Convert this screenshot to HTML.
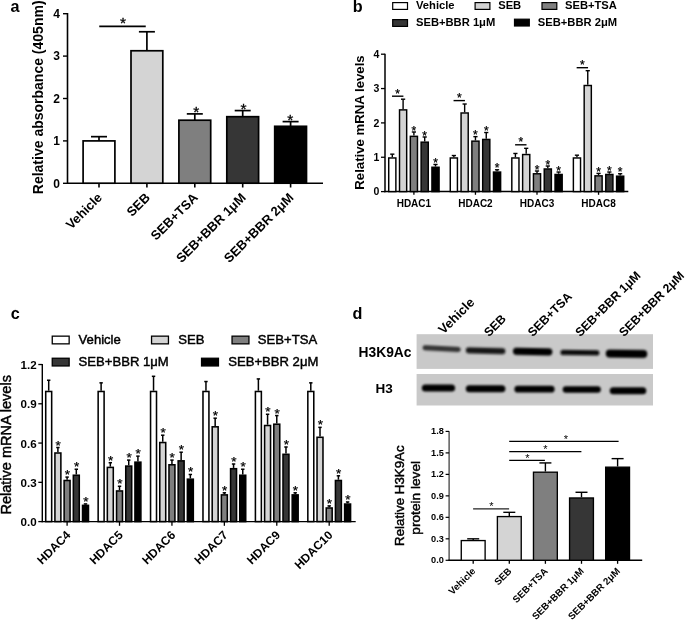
<!DOCTYPE html>
<html><head><meta charset="utf-8"><style>
html,body{margin:0;padding:0;background:#fff;}
body{width:685px;height:620px;overflow:hidden;}
svg{display:block;font-family:"Liberation Sans", sans-serif;filter:blur(0.3px);}
</style></head><body>
<svg width="685" height="620" viewBox="0 0 685 620">
<rect width="685" height="620" fill="#fff"/>
<circle cx="15.3" cy="309.6" r="0.9" fill="#e2e2e2"/>
<line x1="67.50" y1="13.00" x2="67.50" y2="183.90" stroke="#000" stroke-width="1.6"/>
<line x1="67.10" y1="183.20" x2="323.00" y2="183.20" stroke="#000" stroke-width="1.6"/>
<line x1="63.00" y1="183.30" x2="67.50" y2="183.30" stroke="#000" stroke-width="1.4"/>
<text x="60.00" y="187.60" font-size="12" font-weight="bold" text-anchor="end">0</text>
<line x1="63.00" y1="140.90" x2="67.50" y2="140.90" stroke="#000" stroke-width="1.4"/>
<text x="60.00" y="145.20" font-size="12" font-weight="bold" text-anchor="end">1</text>
<line x1="63.00" y1="98.50" x2="67.50" y2="98.50" stroke="#000" stroke-width="1.4"/>
<text x="60.00" y="102.80" font-size="12" font-weight="bold" text-anchor="end">2</text>
<line x1="63.00" y1="56.10" x2="67.50" y2="56.10" stroke="#000" stroke-width="1.4"/>
<text x="60.00" y="60.40" font-size="12" font-weight="bold" text-anchor="end">3</text>
<line x1="63.00" y1="13.70" x2="67.50" y2="13.70" stroke="#000" stroke-width="1.4"/>
<text x="60.00" y="18.00" font-size="12" font-weight="bold" text-anchor="end">4</text>
<line x1="99.00" y1="140.90" x2="99.00" y2="136.66" stroke="#000" stroke-width="1.7"/>
<line x1="91.00" y1="136.66" x2="107.00" y2="136.66" stroke="#000" stroke-width="1.7"/>
<rect x="83.10" y="140.90" width="31.80" height="42.30" fill="#ffffff" stroke="#000" stroke-width="1.7"/>
<line x1="99.00" y1="183.20" x2="99.00" y2="187.50" stroke="#000" stroke-width="1.6"/>
<text x="102.90" y="198.40" font-size="13" font-weight="bold" text-anchor="end" transform="rotate(-45 102.90 198.40)">Vehicle</text>
<line x1="146.90" y1="50.76" x2="146.90" y2="31.76" stroke="#000" stroke-width="1.7"/>
<line x1="138.90" y1="31.76" x2="154.90" y2="31.76" stroke="#000" stroke-width="1.7"/>
<rect x="131.00" y="50.76" width="31.80" height="132.44" fill="#d4d4d4" stroke="#000" stroke-width="1.7"/>
<line x1="146.90" y1="183.20" x2="146.90" y2="187.50" stroke="#000" stroke-width="1.6"/>
<text x="150.80" y="198.40" font-size="13" font-weight="bold" text-anchor="end" transform="rotate(-45 150.80 198.40)">SEB</text>
<line x1="194.80" y1="120.21" x2="194.80" y2="113.89" stroke="#000" stroke-width="1.7"/>
<line x1="186.80" y1="113.89" x2="202.80" y2="113.89" stroke="#000" stroke-width="1.7"/>
<rect x="178.90" y="120.21" width="31.80" height="62.99" fill="#7f7f7f" stroke="#000" stroke-width="1.7"/>
<line x1="194.80" y1="183.20" x2="194.80" y2="187.50" stroke="#000" stroke-width="1.6"/>
<text x="198.70" y="198.40" font-size="13" font-weight="bold" text-anchor="end" transform="rotate(-45 198.70 198.40)">SEB+TSA</text>
<text x="196.20" y="117.33" font-size="15.5" font-weight="normal" text-anchor="middle" stroke="#000" stroke-width="0.3">*</text>
<line x1="242.70" y1="116.69" x2="242.70" y2="110.58" stroke="#000" stroke-width="1.7"/>
<line x1="234.70" y1="110.58" x2="250.70" y2="110.58" stroke="#000" stroke-width="1.7"/>
<rect x="226.80" y="116.69" width="31.80" height="66.51" fill="#363636" stroke="#000" stroke-width="1.7"/>
<line x1="242.70" y1="183.20" x2="242.70" y2="187.50" stroke="#000" stroke-width="1.6"/>
<text x="246.60" y="198.40" font-size="13" font-weight="bold" text-anchor="end" transform="rotate(-45 246.60 198.40)">SEB+BBR 1μM</text>
<text x="243.60" y="114.02" font-size="15.5" font-weight="normal" text-anchor="middle" stroke="#000" stroke-width="0.3">*</text>
<line x1="290.60" y1="126.31" x2="290.60" y2="121.61" stroke="#000" stroke-width="1.7"/>
<line x1="282.60" y1="121.61" x2="298.60" y2="121.61" stroke="#000" stroke-width="1.7"/>
<rect x="274.70" y="126.31" width="31.80" height="56.89" fill="#000000" stroke="#000" stroke-width="1.7"/>
<line x1="290.60" y1="183.20" x2="290.60" y2="187.50" stroke="#000" stroke-width="1.6"/>
<text x="294.50" y="198.40" font-size="13" font-weight="bold" text-anchor="end" transform="rotate(-45 294.50 198.40)">SEB+BBR 2μM</text>
<text x="290.30" y="125.04" font-size="15.5" font-weight="normal" text-anchor="middle" stroke="#000" stroke-width="0.3">*</text>
<line x1="99.25" y1="26.40" x2="145.75" y2="26.40" stroke="#000" stroke-width="1.6"/>
<text x="122.90" y="28.14" font-size="15.5" font-weight="normal" text-anchor="middle" stroke="#000" stroke-width="0.3">*</text>
<text x="42.80" y="194.20" font-size="14" font-weight="bold" text-anchor="start" transform="rotate(-90 42.80 194.20)">Relative absorbance (405nm)</text>
<text x="10.60" y="11.60" font-size="16.2" font-weight="bold" text-anchor="start">a</text>
<line x1="385.00" y1="53.80" x2="385.00" y2="192.20" stroke="#000" stroke-width="1.5"/>
<line x1="384.30" y1="191.60" x2="628.30" y2="191.60" stroke="#000" stroke-width="1.5"/>
<line x1="381.00" y1="191.60" x2="385.00" y2="191.60" stroke="#000" stroke-width="1.3"/>
<text x="379.40" y="195.40" font-size="10.5" font-weight="bold" text-anchor="end">0</text>
<line x1="381.00" y1="157.25" x2="385.00" y2="157.25" stroke="#000" stroke-width="1.3"/>
<text x="379.40" y="161.05" font-size="10.5" font-weight="bold" text-anchor="end">1</text>
<line x1="381.00" y1="122.90" x2="385.00" y2="122.90" stroke="#000" stroke-width="1.3"/>
<text x="379.40" y="126.70" font-size="10.5" font-weight="bold" text-anchor="end">2</text>
<line x1="381.00" y1="88.55" x2="385.00" y2="88.55" stroke="#000" stroke-width="1.3"/>
<text x="379.40" y="92.35" font-size="10.5" font-weight="bold" text-anchor="end">3</text>
<line x1="381.00" y1="54.20" x2="385.00" y2="54.20" stroke="#000" stroke-width="1.3"/>
<text x="379.40" y="58.00" font-size="10.5" font-weight="bold" text-anchor="end">4</text>
<line x1="413.90" y1="191.60" x2="413.90" y2="194.80" stroke="#000" stroke-width="1.3"/>
<text x="413.90" y="206.50" font-size="10" font-weight="bold" text-anchor="middle">HDAC1</text>
<line x1="392.30" y1="157.25" x2="392.30" y2="154.16" stroke="#000" stroke-width="1.4"/>
<line x1="390.20" y1="154.16" x2="394.40" y2="154.16" stroke="#000" stroke-width="1.4"/>
<rect x="388.72" y="157.97" width="7.15" height="33.62" fill="#ffffff" stroke="#000" stroke-width="1.45"/>
<line x1="403.10" y1="109.16" x2="403.10" y2="99.20" stroke="#000" stroke-width="1.4"/>
<line x1="401.00" y1="99.20" x2="405.20" y2="99.20" stroke="#000" stroke-width="1.4"/>
<rect x="399.52" y="109.88" width="7.15" height="81.72" fill="#d4d4d4" stroke="#000" stroke-width="1.45"/>
<line x1="413.90" y1="135.61" x2="413.90" y2="132.00" stroke="#000" stroke-width="1.4"/>
<line x1="411.80" y1="132.00" x2="416.00" y2="132.00" stroke="#000" stroke-width="1.4"/>
<rect x="410.32" y="136.33" width="7.15" height="55.27" fill="#7f7f7f" stroke="#000" stroke-width="1.45"/>
<text x="413.90" y="134.65" font-size="12" font-weight="normal" text-anchor="middle" stroke="#000" stroke-width="0.25">*</text>
<line x1="424.70" y1="141.45" x2="424.70" y2="136.98" stroke="#000" stroke-width="1.4"/>
<line x1="422.60" y1="136.98" x2="426.80" y2="136.98" stroke="#000" stroke-width="1.4"/>
<rect x="421.12" y="142.17" width="7.15" height="49.43" fill="#363636" stroke="#000" stroke-width="1.45"/>
<text x="424.70" y="139.63" font-size="12" font-weight="normal" text-anchor="middle" stroke="#000" stroke-width="0.25">*</text>
<line x1="435.50" y1="166.52" x2="435.50" y2="164.46" stroke="#000" stroke-width="1.4"/>
<line x1="433.40" y1="164.46" x2="437.60" y2="164.46" stroke="#000" stroke-width="1.4"/>
<rect x="431.93" y="167.25" width="7.15" height="24.35" fill="#000000" stroke="#000" stroke-width="1.45"/>
<text x="435.50" y="167.11" font-size="12" font-weight="normal" text-anchor="middle" stroke="#000" stroke-width="0.25">*</text>
<line x1="392.00" y1="96.20" x2="403.40" y2="96.20" stroke="#000" stroke-width="1.4"/>
<text x="397.70" y="97.74" font-size="12" font-weight="normal" text-anchor="middle" stroke="#000" stroke-width="0.25">*</text>
<line x1="475.45" y1="191.60" x2="475.45" y2="194.80" stroke="#000" stroke-width="1.3"/>
<text x="475.45" y="206.50" font-size="10" font-weight="bold" text-anchor="middle">HDAC2</text>
<line x1="453.85" y1="157.25" x2="453.85" y2="155.53" stroke="#000" stroke-width="1.4"/>
<line x1="451.75" y1="155.53" x2="455.95" y2="155.53" stroke="#000" stroke-width="1.4"/>
<rect x="450.27" y="157.97" width="7.15" height="33.62" fill="#ffffff" stroke="#000" stroke-width="1.45"/>
<line x1="464.65" y1="112.25" x2="464.65" y2="104.01" stroke="#000" stroke-width="1.4"/>
<line x1="462.55" y1="104.01" x2="466.75" y2="104.01" stroke="#000" stroke-width="1.4"/>
<rect x="461.07" y="112.98" width="7.15" height="78.62" fill="#d4d4d4" stroke="#000" stroke-width="1.45"/>
<line x1="475.45" y1="140.42" x2="475.45" y2="136.64" stroke="#000" stroke-width="1.4"/>
<line x1="473.35" y1="136.64" x2="477.55" y2="136.64" stroke="#000" stroke-width="1.4"/>
<rect x="471.88" y="141.14" width="7.15" height="50.46" fill="#7f7f7f" stroke="#000" stroke-width="1.45"/>
<text x="475.45" y="139.28" font-size="12" font-weight="normal" text-anchor="middle" stroke="#000" stroke-width="0.25">*</text>
<line x1="486.25" y1="138.70" x2="486.25" y2="132.52" stroke="#000" stroke-width="1.4"/>
<line x1="484.15" y1="132.52" x2="488.35" y2="132.52" stroke="#000" stroke-width="1.4"/>
<rect x="482.68" y="139.43" width="7.15" height="52.17" fill="#363636" stroke="#000" stroke-width="1.45"/>
<text x="486.25" y="135.16" font-size="12" font-weight="normal" text-anchor="middle" stroke="#000" stroke-width="0.25">*</text>
<line x1="497.05" y1="171.33" x2="497.05" y2="169.79" stroke="#000" stroke-width="1.4"/>
<line x1="494.95" y1="169.79" x2="499.15" y2="169.79" stroke="#000" stroke-width="1.4"/>
<rect x="493.48" y="172.06" width="7.15" height="19.54" fill="#000000" stroke="#000" stroke-width="1.45"/>
<text x="497.05" y="172.43" font-size="12" font-weight="normal" text-anchor="middle" stroke="#000" stroke-width="0.25">*</text>
<line x1="453.55" y1="100.60" x2="464.95" y2="100.60" stroke="#000" stroke-width="1.4"/>
<text x="459.25" y="102.14" font-size="12" font-weight="normal" text-anchor="middle" stroke="#000" stroke-width="0.25">*</text>
<line x1="537.00" y1="191.60" x2="537.00" y2="194.80" stroke="#000" stroke-width="1.3"/>
<text x="537.00" y="206.50" font-size="10" font-weight="bold" text-anchor="middle">HDAC3</text>
<line x1="515.40" y1="157.25" x2="515.40" y2="153.47" stroke="#000" stroke-width="1.4"/>
<line x1="513.30" y1="153.47" x2="517.50" y2="153.47" stroke="#000" stroke-width="1.4"/>
<rect x="511.82" y="157.97" width="7.15" height="33.62" fill="#ffffff" stroke="#000" stroke-width="1.45"/>
<line x1="526.20" y1="153.81" x2="526.20" y2="148.32" stroke="#000" stroke-width="1.4"/>
<line x1="524.10" y1="148.32" x2="528.30" y2="148.32" stroke="#000" stroke-width="1.4"/>
<rect x="522.63" y="154.54" width="7.15" height="37.06" fill="#d4d4d4" stroke="#000" stroke-width="1.45"/>
<line x1="537.00" y1="173.05" x2="537.00" y2="170.99" stroke="#000" stroke-width="1.4"/>
<line x1="534.90" y1="170.99" x2="539.10" y2="170.99" stroke="#000" stroke-width="1.4"/>
<rect x="533.43" y="173.78" width="7.15" height="17.82" fill="#7f7f7f" stroke="#000" stroke-width="1.45"/>
<text x="537.00" y="173.63" font-size="12" font-weight="normal" text-anchor="middle" stroke="#000" stroke-width="0.25">*</text>
<line x1="547.80" y1="168.24" x2="547.80" y2="166.01" stroke="#000" stroke-width="1.4"/>
<line x1="545.70" y1="166.01" x2="549.90" y2="166.01" stroke="#000" stroke-width="1.4"/>
<rect x="544.23" y="168.97" width="7.15" height="22.63" fill="#363636" stroke="#000" stroke-width="1.45"/>
<text x="547.80" y="168.65" font-size="12" font-weight="normal" text-anchor="middle" stroke="#000" stroke-width="0.25">*</text>
<line x1="558.60" y1="173.74" x2="558.60" y2="172.02" stroke="#000" stroke-width="1.4"/>
<line x1="556.50" y1="172.02" x2="560.70" y2="172.02" stroke="#000" stroke-width="1.4"/>
<rect x="555.03" y="174.46" width="7.15" height="17.14" fill="#000000" stroke="#000" stroke-width="1.45"/>
<text x="558.60" y="174.66" font-size="12" font-weight="normal" text-anchor="middle" stroke="#000" stroke-width="0.25">*</text>
<line x1="515.10" y1="144.80" x2="526.50" y2="144.80" stroke="#000" stroke-width="1.4"/>
<text x="520.80" y="146.34" font-size="12" font-weight="normal" text-anchor="middle" stroke="#000" stroke-width="0.25">*</text>
<line x1="598.55" y1="191.60" x2="598.55" y2="194.80" stroke="#000" stroke-width="1.3"/>
<text x="598.55" y="206.50" font-size="10" font-weight="bold" text-anchor="middle">HDAC8</text>
<line x1="576.95" y1="157.25" x2="576.95" y2="155.19" stroke="#000" stroke-width="1.4"/>
<line x1="574.85" y1="155.19" x2="579.05" y2="155.19" stroke="#000" stroke-width="1.4"/>
<rect x="573.38" y="157.97" width="7.15" height="33.62" fill="#ffffff" stroke="#000" stroke-width="1.45"/>
<line x1="587.75" y1="84.77" x2="587.75" y2="70.69" stroke="#000" stroke-width="1.4"/>
<line x1="585.65" y1="70.69" x2="589.85" y2="70.69" stroke="#000" stroke-width="1.4"/>
<rect x="584.18" y="85.50" width="7.15" height="106.10" fill="#d4d4d4" stroke="#000" stroke-width="1.45"/>
<line x1="598.55" y1="175.11" x2="598.55" y2="173.39" stroke="#000" stroke-width="1.4"/>
<line x1="596.45" y1="173.39" x2="600.65" y2="173.39" stroke="#000" stroke-width="1.4"/>
<rect x="594.98" y="175.84" width="7.15" height="15.76" fill="#7f7f7f" stroke="#000" stroke-width="1.45"/>
<text x="598.55" y="176.04" font-size="12" font-weight="normal" text-anchor="middle" stroke="#000" stroke-width="0.25">*</text>
<line x1="609.35" y1="173.74" x2="609.35" y2="172.02" stroke="#000" stroke-width="1.4"/>
<line x1="607.25" y1="172.02" x2="611.45" y2="172.02" stroke="#000" stroke-width="1.4"/>
<rect x="605.77" y="174.46" width="7.15" height="17.14" fill="#363636" stroke="#000" stroke-width="1.45"/>
<text x="609.35" y="174.66" font-size="12" font-weight="normal" text-anchor="middle" stroke="#000" stroke-width="0.25">*</text>
<line x1="620.15" y1="175.46" x2="620.15" y2="173.74" stroke="#000" stroke-width="1.4"/>
<line x1="618.05" y1="173.74" x2="622.25" y2="173.74" stroke="#000" stroke-width="1.4"/>
<rect x="616.58" y="176.18" width="7.15" height="15.42" fill="#000000" stroke="#000" stroke-width="1.45"/>
<text x="620.15" y="176.38" font-size="12" font-weight="normal" text-anchor="middle" stroke="#000" stroke-width="0.25">*</text>
<line x1="576.65" y1="67.70" x2="588.05" y2="67.70" stroke="#000" stroke-width="1.4"/>
<text x="582.35" y="69.24" font-size="12" font-weight="normal" text-anchor="middle" stroke="#000" stroke-width="0.25">*</text>
<text x="364.30" y="189.70" font-size="13.2" font-weight="bold" text-anchor="start" transform="rotate(-90 364.30 189.70)">Relative mRNA levels</text>
<text x="352.80" y="11.50" font-size="16.2" font-weight="bold" text-anchor="start">b</text>
<rect x="392.70" y="2.60" width="14.80" height="6.80" fill="#ffffff" stroke="#000" stroke-width="1.2"/>
<text x="416.00" y="9.20" font-size="11.2" font-weight="bold" text-anchor="start">Vehicle</text>
<rect x="475.10" y="2.60" width="14.80" height="6.80" fill="#d4d4d4" stroke="#000" stroke-width="1.2"/>
<text x="498.20" y="9.20" font-size="11.2" font-weight="bold" text-anchor="start">SEB</text>
<rect x="542.00" y="2.60" width="14.80" height="6.80" fill="#7f7f7f" stroke="#000" stroke-width="1.2"/>
<text x="565.00" y="9.20" font-size="11.2" font-weight="bold" text-anchor="start">SEB+TSA</text>
<rect x="392.70" y="19.60" width="14.80" height="6.80" fill="#363636" stroke="#000" stroke-width="1.2"/>
<text x="416.00" y="26.20" font-size="11.2" font-weight="bold" text-anchor="start">SEB+BBR 1μM</text>
<rect x="514.50" y="19.20" width="14.80" height="6.80" fill="#000000" stroke="#000" stroke-width="1.2"/>
<text x="537.80" y="25.80" font-size="11.2" font-weight="bold" text-anchor="start">SEB+BBR 2μM</text>
<line x1="42.30" y1="363.90" x2="42.30" y2="522.20" stroke="#000" stroke-width="1.4"/>
<line x1="41.60" y1="521.60" x2="355.70" y2="521.60" stroke="#000" stroke-width="1.4"/>
<line x1="38.30" y1="521.60" x2="42.30" y2="521.60" stroke="#000" stroke-width="1.3"/>
<text x="36.60" y="526.10" font-size="11.6" font-weight="bold" text-anchor="end">0.0</text>
<line x1="38.30" y1="482.33" x2="42.30" y2="482.33" stroke="#000" stroke-width="1.3"/>
<text x="36.60" y="486.83" font-size="11.6" font-weight="bold" text-anchor="end">0.3</text>
<line x1="38.30" y1="443.06" x2="42.30" y2="443.06" stroke="#000" stroke-width="1.3"/>
<text x="36.60" y="447.56" font-size="11.6" font-weight="bold" text-anchor="end">0.6</text>
<line x1="38.30" y1="403.79" x2="42.30" y2="403.79" stroke="#000" stroke-width="1.3"/>
<text x="36.60" y="408.29" font-size="11.6" font-weight="bold" text-anchor="end">0.9</text>
<line x1="38.30" y1="364.52" x2="42.30" y2="364.52" stroke="#000" stroke-width="1.3"/>
<text x="36.60" y="369.02" font-size="11.6" font-weight="bold" text-anchor="end">1.2</text>
<line x1="67.10" y1="521.60" x2="67.10" y2="525.80" stroke="#000" stroke-width="1.3"/>
<text x="71.30" y="535.80" font-size="12" font-weight="bold" text-anchor="end" transform="rotate(-45 71.30 535.80)">HDAC4</text>
<line x1="48.70" y1="390.70" x2="48.70" y2="380.23" stroke="#000" stroke-width="1.5"/>
<line x1="47.00" y1="380.23" x2="50.40" y2="380.23" stroke="#000" stroke-width="1.5"/>
<rect x="45.72" y="391.48" width="5.95" height="130.12" fill="#ffffff" stroke="#000" stroke-width="1.55"/>
<line x1="57.90" y1="452.22" x2="57.90" y2="447.51" stroke="#000" stroke-width="1.5"/>
<line x1="56.20" y1="447.51" x2="59.60" y2="447.51" stroke="#000" stroke-width="1.5"/>
<rect x="54.92" y="453.00" width="5.95" height="68.60" fill="#d4d4d4" stroke="#000" stroke-width="1.55"/>
<text x="58.20" y="449.52" font-size="13.5" font-weight="normal" text-anchor="middle" stroke="#000" stroke-width="0.25">*</text>
<line x1="67.10" y1="479.71" x2="67.10" y2="477.09" stroke="#000" stroke-width="1.5"/>
<line x1="65.40" y1="477.09" x2="68.80" y2="477.09" stroke="#000" stroke-width="1.5"/>
<rect x="64.12" y="480.49" width="5.95" height="41.11" fill="#7f7f7f" stroke="#000" stroke-width="1.55"/>
<text x="67.40" y="479.11" font-size="13.5" font-weight="normal" text-anchor="middle" stroke="#000" stroke-width="0.25">*</text>
<line x1="76.30" y1="474.48" x2="76.30" y2="469.24" stroke="#000" stroke-width="1.5"/>
<line x1="74.60" y1="469.24" x2="78.00" y2="469.24" stroke="#000" stroke-width="1.5"/>
<rect x="73.33" y="475.25" width="5.95" height="46.35" fill="#363636" stroke="#000" stroke-width="1.55"/>
<text x="76.60" y="471.25" font-size="13.5" font-weight="normal" text-anchor="middle" stroke="#000" stroke-width="0.25">*</text>
<line x1="85.50" y1="504.58" x2="85.50" y2="503.93" stroke="#000" stroke-width="1.5"/>
<line x1="83.80" y1="503.93" x2="87.20" y2="503.93" stroke="#000" stroke-width="1.5"/>
<rect x="82.53" y="505.36" width="5.95" height="16.24" fill="#000000" stroke="#000" stroke-width="1.55"/>
<text x="85.80" y="505.94" font-size="13.5" font-weight="normal" text-anchor="middle" stroke="#000" stroke-width="0.25">*</text>
<line x1="119.52" y1="521.60" x2="119.52" y2="525.80" stroke="#000" stroke-width="1.3"/>
<text x="123.72" y="535.80" font-size="12" font-weight="bold" text-anchor="end" transform="rotate(-45 123.72 535.80)">HDAC5</text>
<line x1="101.12" y1="390.70" x2="101.12" y2="382.85" stroke="#000" stroke-width="1.5"/>
<line x1="99.42" y1="382.85" x2="102.82" y2="382.85" stroke="#000" stroke-width="1.5"/>
<rect x="98.15" y="391.48" width="5.95" height="130.12" fill="#ffffff" stroke="#000" stroke-width="1.55"/>
<line x1="110.32" y1="466.62" x2="110.32" y2="462.70" stroke="#000" stroke-width="1.5"/>
<line x1="108.62" y1="462.70" x2="112.02" y2="462.70" stroke="#000" stroke-width="1.5"/>
<rect x="107.34" y="467.40" width="5.95" height="54.20" fill="#d4d4d4" stroke="#000" stroke-width="1.55"/>
<text x="110.62" y="464.71" font-size="13.5" font-weight="normal" text-anchor="middle" stroke="#000" stroke-width="0.25">*</text>
<line x1="119.52" y1="490.18" x2="119.52" y2="486.26" stroke="#000" stroke-width="1.5"/>
<line x1="117.82" y1="486.26" x2="121.22" y2="486.26" stroke="#000" stroke-width="1.5"/>
<rect x="116.55" y="490.96" width="5.95" height="30.64" fill="#7f7f7f" stroke="#000" stroke-width="1.55"/>
<text x="119.82" y="488.27" font-size="13.5" font-weight="normal" text-anchor="middle" stroke="#000" stroke-width="0.25">*</text>
<line x1="128.72" y1="465.31" x2="128.72" y2="460.08" stroke="#000" stroke-width="1.5"/>
<line x1="127.02" y1="460.08" x2="130.42" y2="460.08" stroke="#000" stroke-width="1.5"/>
<rect x="125.75" y="466.09" width="5.95" height="55.51" fill="#363636" stroke="#000" stroke-width="1.55"/>
<text x="129.02" y="462.09" font-size="13.5" font-weight="normal" text-anchor="middle" stroke="#000" stroke-width="0.25">*</text>
<line x1="137.92" y1="461.39" x2="137.92" y2="456.15" stroke="#000" stroke-width="1.5"/>
<line x1="136.22" y1="456.15" x2="139.62" y2="456.15" stroke="#000" stroke-width="1.5"/>
<rect x="134.94" y="462.16" width="5.95" height="59.44" fill="#000000" stroke="#000" stroke-width="1.55"/>
<text x="138.22" y="458.16" font-size="13.5" font-weight="normal" text-anchor="middle" stroke="#000" stroke-width="0.25">*</text>
<line x1="171.94" y1="521.60" x2="171.94" y2="525.80" stroke="#000" stroke-width="1.3"/>
<text x="176.14" y="535.80" font-size="12" font-weight="bold" text-anchor="end" transform="rotate(-45 176.14 535.80)">HDAC6</text>
<line x1="153.54" y1="390.70" x2="153.54" y2="376.30" stroke="#000" stroke-width="1.5"/>
<line x1="151.84" y1="376.30" x2="155.24" y2="376.30" stroke="#000" stroke-width="1.5"/>
<rect x="150.56" y="391.48" width="5.95" height="130.12" fill="#ffffff" stroke="#000" stroke-width="1.55"/>
<line x1="162.74" y1="441.75" x2="162.74" y2="435.21" stroke="#000" stroke-width="1.5"/>
<line x1="161.04" y1="435.21" x2="164.44" y2="435.21" stroke="#000" stroke-width="1.5"/>
<rect x="159.77" y="442.53" width="5.95" height="79.07" fill="#d4d4d4" stroke="#000" stroke-width="1.55"/>
<text x="163.04" y="437.22" font-size="13.5" font-weight="normal" text-anchor="middle" stroke="#000" stroke-width="0.25">*</text>
<line x1="171.94" y1="464.00" x2="171.94" y2="460.08" stroke="#000" stroke-width="1.5"/>
<line x1="170.24" y1="460.08" x2="173.64" y2="460.08" stroke="#000" stroke-width="1.5"/>
<rect x="168.97" y="464.78" width="5.95" height="56.82" fill="#7f7f7f" stroke="#000" stroke-width="1.55"/>
<text x="172.24" y="462.09" font-size="13.5" font-weight="normal" text-anchor="middle" stroke="#000" stroke-width="0.25">*</text>
<line x1="181.14" y1="460.08" x2="181.14" y2="452.22" stroke="#000" stroke-width="1.5"/>
<line x1="179.44" y1="452.22" x2="182.84" y2="452.22" stroke="#000" stroke-width="1.5"/>
<rect x="178.16" y="460.85" width="5.95" height="60.75" fill="#363636" stroke="#000" stroke-width="1.55"/>
<text x="181.44" y="454.24" font-size="13.5" font-weight="normal" text-anchor="middle" stroke="#000" stroke-width="0.25">*</text>
<line x1="190.34" y1="478.40" x2="190.34" y2="474.48" stroke="#000" stroke-width="1.5"/>
<line x1="188.64" y1="474.48" x2="192.04" y2="474.48" stroke="#000" stroke-width="1.5"/>
<rect x="187.37" y="479.18" width="5.95" height="42.42" fill="#000000" stroke="#000" stroke-width="1.55"/>
<text x="190.64" y="476.49" font-size="13.5" font-weight="normal" text-anchor="middle" stroke="#000" stroke-width="0.25">*</text>
<line x1="224.36" y1="521.60" x2="224.36" y2="525.80" stroke="#000" stroke-width="1.3"/>
<text x="228.56" y="535.80" font-size="12" font-weight="bold" text-anchor="end" transform="rotate(-45 228.56 535.80)">HDAC7</text>
<line x1="205.96" y1="390.70" x2="205.96" y2="381.54" stroke="#000" stroke-width="1.5"/>
<line x1="204.26" y1="381.54" x2="207.66" y2="381.54" stroke="#000" stroke-width="1.5"/>
<rect x="202.98" y="391.48" width="5.95" height="130.12" fill="#ffffff" stroke="#000" stroke-width="1.55"/>
<line x1="215.16" y1="426.04" x2="215.16" y2="418.19" stroke="#000" stroke-width="1.5"/>
<line x1="213.46" y1="418.19" x2="216.86" y2="418.19" stroke="#000" stroke-width="1.5"/>
<rect x="212.19" y="426.82" width="5.95" height="94.78" fill="#d4d4d4" stroke="#000" stroke-width="1.55"/>
<text x="215.46" y="420.20" font-size="13.5" font-weight="normal" text-anchor="middle" stroke="#000" stroke-width="0.25">*</text>
<line x1="224.36" y1="494.11" x2="224.36" y2="492.80" stroke="#000" stroke-width="1.5"/>
<line x1="222.66" y1="492.80" x2="226.06" y2="492.80" stroke="#000" stroke-width="1.5"/>
<rect x="221.38" y="494.89" width="5.95" height="26.71" fill="#7f7f7f" stroke="#000" stroke-width="1.55"/>
<text x="224.66" y="494.81" font-size="13.5" font-weight="normal" text-anchor="middle" stroke="#000" stroke-width="0.25">*</text>
<line x1="233.56" y1="467.93" x2="233.56" y2="464.00" stroke="#000" stroke-width="1.5"/>
<line x1="231.86" y1="464.00" x2="235.26" y2="464.00" stroke="#000" stroke-width="1.5"/>
<rect x="230.58" y="468.71" width="5.95" height="52.89" fill="#363636" stroke="#000" stroke-width="1.55"/>
<text x="233.86" y="466.02" font-size="13.5" font-weight="normal" text-anchor="middle" stroke="#000" stroke-width="0.25">*</text>
<line x1="242.76" y1="474.48" x2="242.76" y2="469.24" stroke="#000" stroke-width="1.5"/>
<line x1="241.06" y1="469.24" x2="244.46" y2="469.24" stroke="#000" stroke-width="1.5"/>
<rect x="239.78" y="475.25" width="5.95" height="46.35" fill="#000000" stroke="#000" stroke-width="1.55"/>
<text x="243.06" y="471.25" font-size="13.5" font-weight="normal" text-anchor="middle" stroke="#000" stroke-width="0.25">*</text>
<line x1="276.78" y1="521.60" x2="276.78" y2="525.80" stroke="#000" stroke-width="1.3"/>
<text x="280.98" y="535.80" font-size="12" font-weight="bold" text-anchor="end" transform="rotate(-45 280.98 535.80)">HDAC9</text>
<line x1="258.38" y1="390.70" x2="258.38" y2="378.92" stroke="#000" stroke-width="1.5"/>
<line x1="256.68" y1="378.92" x2="260.08" y2="378.92" stroke="#000" stroke-width="1.5"/>
<rect x="255.41" y="391.48" width="5.95" height="130.12" fill="#ffffff" stroke="#000" stroke-width="1.55"/>
<line x1="267.58" y1="424.73" x2="267.58" y2="414.26" stroke="#000" stroke-width="1.5"/>
<line x1="265.88" y1="414.26" x2="269.28" y2="414.26" stroke="#000" stroke-width="1.5"/>
<rect x="264.60" y="425.51" width="5.95" height="96.09" fill="#d4d4d4" stroke="#000" stroke-width="1.55"/>
<text x="267.88" y="416.27" font-size="13.5" font-weight="normal" text-anchor="middle" stroke="#000" stroke-width="0.25">*</text>
<line x1="276.78" y1="423.43" x2="276.78" y2="415.57" stroke="#000" stroke-width="1.5"/>
<line x1="275.08" y1="415.57" x2="278.48" y2="415.57" stroke="#000" stroke-width="1.5"/>
<rect x="273.80" y="424.20" width="5.95" height="97.40" fill="#7f7f7f" stroke="#000" stroke-width="1.55"/>
<text x="277.08" y="417.58" font-size="13.5" font-weight="normal" text-anchor="middle" stroke="#000" stroke-width="0.25">*</text>
<line x1="285.98" y1="453.53" x2="285.98" y2="446.99" stroke="#000" stroke-width="1.5"/>
<line x1="284.28" y1="446.99" x2="287.68" y2="446.99" stroke="#000" stroke-width="1.5"/>
<rect x="283.00" y="454.31" width="5.95" height="67.29" fill="#363636" stroke="#000" stroke-width="1.55"/>
<text x="286.28" y="449.00" font-size="13.5" font-weight="normal" text-anchor="middle" stroke="#000" stroke-width="0.25">*</text>
<line x1="295.18" y1="494.11" x2="295.18" y2="492.80" stroke="#000" stroke-width="1.5"/>
<line x1="293.48" y1="492.80" x2="296.88" y2="492.80" stroke="#000" stroke-width="1.5"/>
<rect x="292.20" y="494.89" width="5.95" height="26.71" fill="#000000" stroke="#000" stroke-width="1.55"/>
<text x="295.48" y="494.81" font-size="13.5" font-weight="normal" text-anchor="middle" stroke="#000" stroke-width="0.25">*</text>
<line x1="329.20" y1="521.60" x2="329.20" y2="525.80" stroke="#000" stroke-width="1.3"/>
<text x="333.40" y="535.80" font-size="12" font-weight="bold" text-anchor="end" transform="rotate(-45 333.40 535.80)">HDAC10</text>
<line x1="310.80" y1="390.70" x2="310.80" y2="382.85" stroke="#000" stroke-width="1.5"/>
<line x1="309.10" y1="382.85" x2="312.50" y2="382.85" stroke="#000" stroke-width="1.5"/>
<rect x="307.83" y="391.48" width="5.95" height="130.12" fill="#ffffff" stroke="#000" stroke-width="1.55"/>
<line x1="320.00" y1="436.51" x2="320.00" y2="427.35" stroke="#000" stroke-width="1.5"/>
<line x1="318.30" y1="427.35" x2="321.70" y2="427.35" stroke="#000" stroke-width="1.5"/>
<rect x="317.03" y="437.29" width="5.95" height="84.31" fill="#d4d4d4" stroke="#000" stroke-width="1.55"/>
<text x="320.30" y="429.36" font-size="13.5" font-weight="normal" text-anchor="middle" stroke="#000" stroke-width="0.25">*</text>
<line x1="329.20" y1="507.20" x2="329.20" y2="505.89" stroke="#000" stroke-width="1.5"/>
<line x1="327.50" y1="505.89" x2="330.90" y2="505.89" stroke="#000" stroke-width="1.5"/>
<rect x="326.23" y="507.98" width="5.95" height="13.62" fill="#7f7f7f" stroke="#000" stroke-width="1.55"/>
<text x="329.50" y="507.90" font-size="13.5" font-weight="normal" text-anchor="middle" stroke="#000" stroke-width="0.25">*</text>
<line x1="338.40" y1="479.71" x2="338.40" y2="475.79" stroke="#000" stroke-width="1.5"/>
<line x1="336.70" y1="475.79" x2="340.10" y2="475.79" stroke="#000" stroke-width="1.5"/>
<rect x="335.43" y="480.49" width="5.95" height="41.11" fill="#363636" stroke="#000" stroke-width="1.55"/>
<text x="338.70" y="477.80" font-size="13.5" font-weight="normal" text-anchor="middle" stroke="#000" stroke-width="0.25">*</text>
<line x1="347.60" y1="503.27" x2="347.60" y2="501.97" stroke="#000" stroke-width="1.5"/>
<line x1="345.90" y1="501.97" x2="349.30" y2="501.97" stroke="#000" stroke-width="1.5"/>
<rect x="344.62" y="504.05" width="5.95" height="17.55" fill="#000000" stroke="#000" stroke-width="1.55"/>
<text x="347.90" y="503.98" font-size="13.5" font-weight="normal" text-anchor="middle" stroke="#000" stroke-width="0.25">*</text>
<text x="11.00" y="514.50" font-size="14.5" font-weight="normal" text-anchor="start" transform="rotate(-90 11.00 514.50)" stroke="#000" stroke-width="0.45">Relative mRNA levels</text>
<text x="10.80" y="318.60" font-size="16.2" font-weight="bold" text-anchor="start">c</text>
<rect x="52.25" y="336.15" width="16.90" height="7.70" fill="#ffffff" stroke="#000" stroke-width="1.3"/>
<text x="78.60" y="344.30" font-size="13.1" font-weight="normal" text-anchor="start" stroke="#000" stroke-width="0.45">Vehicle</text>
<rect x="151.55" y="336.15" width="16.90" height="7.70" fill="#d4d4d4" stroke="#000" stroke-width="1.3"/>
<text x="178.20" y="344.30" font-size="13.1" font-weight="normal" text-anchor="start" stroke="#000" stroke-width="0.45">SEB</text>
<rect x="232.05" y="336.15" width="16.90" height="7.70" fill="#7f7f7f" stroke="#000" stroke-width="1.3"/>
<text x="257.80" y="344.30" font-size="13.1" font-weight="normal" text-anchor="start" stroke="#000" stroke-width="0.45">SEB+TSA</text>
<rect x="52.25" y="358.25" width="16.90" height="7.70" fill="#363636" stroke="#000" stroke-width="1.3"/>
<text x="78.60" y="366.40" font-size="13.1" font-weight="normal" text-anchor="start" stroke="#000" stroke-width="0.45">SEB+BBR 1μM</text>
<rect x="201.55" y="358.25" width="16.90" height="7.70" fill="#000000" stroke="#000" stroke-width="1.3"/>
<text x="228.20" y="366.40" font-size="13.1" font-weight="normal" text-anchor="start" stroke="#000" stroke-width="0.45">SEB+BBR 2μM</text>
<text x="352.60" y="318.80" font-size="16.2" font-weight="bold" text-anchor="start">d</text>
<defs><filter id="bl" x="-20%" y="-100%" width="140%" height="300%"><feGaussianBlur stdDeviation="0.9"/></filter></defs>
<rect x="416.6" y="334.2" width="236.4" height="34.7" fill="#c9c9c9"/>
<rect x="416.6" y="374.0" width="236.4" height="31.5" fill="#c9c9c9"/>
<rect x="422.60" y="346.00" width="38.00" height="5.20" rx="2.60" fill="#363636" filter="url(#bl)" transform="rotate(3.016 441.60 348.60)"/>
<rect x="465.80" y="347.80" width="39.60" height="6.00" rx="3.00" fill="#121212" filter="url(#bl)" transform="rotate(1.447 485.60 350.80)"/>
<rect x="512.90" y="348.00" width="39.50" height="7.20" rx="3.60" fill="#050505" filter="url(#bl)" transform="rotate(1.160 532.65 351.60)"/>
<rect x="560.40" y="350.10" width="39.00" height="5.20" rx="2.60" fill="#0e0e0e" filter="url(#bl)" transform="rotate(0.735 579.90 352.70)"/>
<rect x="605.70" y="349.70" width="41.60" height="8.00" rx="4.00" fill="#000" filter="url(#bl)" transform="rotate(0.689 626.50 353.70)"/>
<rect x="421.80" y="384.40" width="33.30" height="7.00" rx="3.50" fill="#000" filter="url(#bl)"/>
<rect x="465.80" y="385.30" width="39.60" height="7.00" rx="3.50" fill="#000" filter="url(#bl)"/>
<rect x="514.40" y="385.80" width="40.20" height="6.80" rx="3.40" fill="#000" filter="url(#bl)"/>
<rect x="562.70" y="386.30" width="38.10" height="6.40" rx="3.20" fill="#000" filter="url(#bl)"/>
<rect x="609.70" y="387.20" width="36.60" height="7.00" rx="3.50" fill="#000" filter="url(#bl)"/>
<text x="358.60" y="357.10" font-size="13.8" font-weight="bold" text-anchor="start">H3K9Ac</text>
<text x="375.60" y="393.10" font-size="13.5" font-weight="bold" text-anchor="start">H3</text>
<text x="443.60" y="334.80" font-size="13" font-weight="bold" text-anchor="start" transform="rotate(-45 443.60 334.80)">Vehicle</text>
<text x="489.10" y="337.30" font-size="12.2" font-weight="bold" text-anchor="start" transform="rotate(-45 489.10 337.30)">SEB</text>
<text x="532.70" y="337.30" font-size="12.2" font-weight="bold" text-anchor="start" transform="rotate(-45 532.70 337.30)">SEB+TSA</text>
<text x="580.30" y="337.30" font-size="12.2" font-weight="bold" text-anchor="start" transform="rotate(-45 580.30 337.30)">SEB+BBR 1μM</text>
<text x="623.90" y="337.30" font-size="12.2" font-weight="bold" text-anchor="start" transform="rotate(-45 623.90 337.30)">SEB+BBR 2μM</text>
<line x1="449.10" y1="431.20" x2="449.10" y2="560.90" stroke="#333" stroke-width="1.2"/>
<line x1="448.50" y1="560.30" x2="642.20" y2="560.30" stroke="#000" stroke-width="1.5"/>
<line x1="445.60" y1="560.30" x2="449.10" y2="560.30" stroke="#000" stroke-width="1.2"/>
<text x="443.90" y="563.10" font-size="9.2" font-weight="bold" text-anchor="end">0.0</text>
<line x1="445.60" y1="538.82" x2="449.10" y2="538.82" stroke="#000" stroke-width="1.2"/>
<text x="443.90" y="541.62" font-size="9.2" font-weight="bold" text-anchor="end">0.3</text>
<line x1="445.60" y1="517.34" x2="449.10" y2="517.34" stroke="#000" stroke-width="1.2"/>
<text x="443.90" y="520.14" font-size="9.2" font-weight="bold" text-anchor="end">0.6</text>
<line x1="445.60" y1="495.86" x2="449.10" y2="495.86" stroke="#000" stroke-width="1.2"/>
<text x="443.90" y="498.66" font-size="9.2" font-weight="bold" text-anchor="end">0.9</text>
<line x1="445.60" y1="474.38" x2="449.10" y2="474.38" stroke="#000" stroke-width="1.2"/>
<text x="443.90" y="477.18" font-size="9.2" font-weight="bold" text-anchor="end">1.2</text>
<line x1="445.60" y1="452.90" x2="449.10" y2="452.90" stroke="#000" stroke-width="1.2"/>
<text x="443.90" y="455.70" font-size="9.2" font-weight="bold" text-anchor="end">1.5</text>
<line x1="445.60" y1="431.42" x2="449.10" y2="431.42" stroke="#000" stroke-width="1.2"/>
<text x="443.90" y="434.22" font-size="9.2" font-weight="bold" text-anchor="end">1.8</text>
<line x1="473.20" y1="539.89" x2="473.20" y2="538.82" stroke="#000" stroke-width="1.4"/>
<line x1="467.20" y1="538.82" x2="479.20" y2="538.82" stroke="#000" stroke-width="1.4"/>
<rect x="461.27" y="540.57" width="23.85" height="19.73" fill="#ffffff" stroke="#000" stroke-width="1.35"/>
<line x1="473.20" y1="560.30" x2="473.20" y2="563.80" stroke="#000" stroke-width="1.3"/>
<text x="476.20" y="571.70" font-size="9.7" font-weight="bold" text-anchor="end" transform="rotate(-45 476.20 571.70)">Vehicle</text>
<line x1="509.30" y1="515.91" x2="509.30" y2="512.33" stroke="#000" stroke-width="1.4"/>
<line x1="503.30" y1="512.33" x2="515.30" y2="512.33" stroke="#000" stroke-width="1.4"/>
<rect x="497.38" y="516.58" width="23.85" height="43.72" fill="#d4d4d4" stroke="#000" stroke-width="1.35"/>
<line x1="509.30" y1="560.30" x2="509.30" y2="563.80" stroke="#000" stroke-width="1.3"/>
<text x="512.30" y="571.70" font-size="9.7" font-weight="bold" text-anchor="end" transform="rotate(-45 512.30 571.70)">SEB</text>
<line x1="545.40" y1="471.52" x2="545.40" y2="462.92" stroke="#000" stroke-width="1.4"/>
<line x1="539.40" y1="462.92" x2="551.40" y2="462.92" stroke="#000" stroke-width="1.4"/>
<rect x="533.47" y="472.19" width="23.85" height="88.11" fill="#7f7f7f" stroke="#000" stroke-width="1.35"/>
<line x1="545.40" y1="560.30" x2="545.40" y2="563.80" stroke="#000" stroke-width="1.3"/>
<text x="548.40" y="571.70" font-size="9.7" font-weight="bold" text-anchor="end" transform="rotate(-45 548.40 571.70)">SEB+TSA</text>
<line x1="581.50" y1="497.29" x2="581.50" y2="492.28" stroke="#000" stroke-width="1.4"/>
<line x1="575.50" y1="492.28" x2="587.50" y2="492.28" stroke="#000" stroke-width="1.4"/>
<rect x="569.57" y="497.97" width="23.85" height="62.33" fill="#363636" stroke="#000" stroke-width="1.35"/>
<line x1="581.50" y1="560.30" x2="581.50" y2="563.80" stroke="#000" stroke-width="1.3"/>
<text x="584.50" y="571.70" font-size="9.7" font-weight="bold" text-anchor="end" transform="rotate(-45 584.50 571.70)">SEB+BBR 1μM</text>
<line x1="617.60" y1="466.50" x2="617.60" y2="458.63" stroke="#000" stroke-width="1.4"/>
<line x1="611.60" y1="458.63" x2="623.60" y2="458.63" stroke="#000" stroke-width="1.4"/>
<rect x="605.67" y="467.18" width="23.85" height="93.12" fill="#000000" stroke="#000" stroke-width="1.35"/>
<line x1="617.60" y1="560.30" x2="617.60" y2="563.80" stroke="#000" stroke-width="1.3"/>
<text x="620.60" y="571.70" font-size="9.7" font-weight="bold" text-anchor="end" transform="rotate(-45 620.60 571.70)">SEB+BBR 2μM</text>
<line x1="473.10" y1="508.90" x2="509.10" y2="508.90" stroke="#222" stroke-width="1.3"/>
<text x="491.30" y="510.03" font-size="11" font-weight="normal" text-anchor="middle">*</text>
<line x1="509.20" y1="460.40" x2="544.90" y2="460.40" stroke="#000" stroke-width="1.3"/>
<text x="527.40" y="461.83" font-size="11" font-weight="normal" text-anchor="middle">*</text>
<line x1="509.20" y1="451.60" x2="581.40" y2="451.60" stroke="#000" stroke-width="1.3"/>
<text x="545.50" y="453.03" font-size="11" font-weight="normal" text-anchor="middle">*</text>
<line x1="509.20" y1="441.30" x2="618.60" y2="441.30" stroke="#000" stroke-width="1.3"/>
<text x="565.90" y="443.23" font-size="11" font-weight="normal" text-anchor="middle">*</text>
<text x="404.40" y="495.70" font-size="13.3" font-weight="normal" text-anchor="middle" transform="rotate(-90 404.40 495.70)" stroke="#000" stroke-width="0.45">Relative H3K9Ac</text>
<text x="419.80" y="497.80" font-size="13.7" font-weight="normal" text-anchor="middle" transform="rotate(-90 419.80 497.80)" stroke="#000" stroke-width="0.45">protein level</text>
</svg>
</body></html>
